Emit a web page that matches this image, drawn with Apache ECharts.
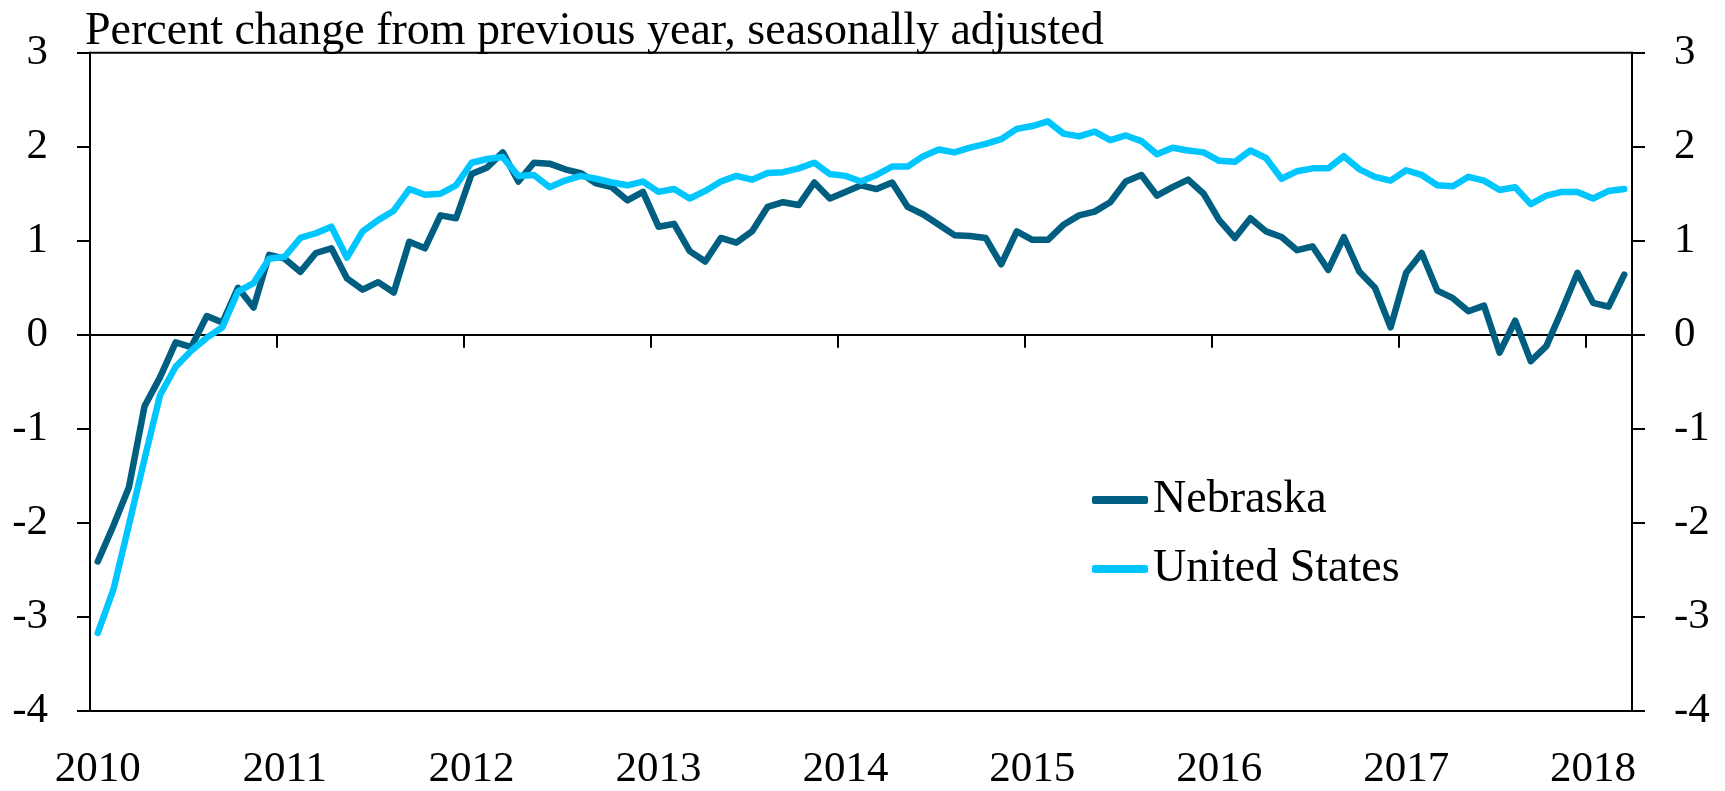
<!DOCTYPE html>
<html>
<head>
<meta charset="utf-8">
<script src="https://cdn.jsdelivr.net/npm/echarts@6/dist/echarts.min.js"></script>
<style>
html,body{margin:0;padding:0;background:#fff;}
#chart{width:1725px;height:791px;}
</style>
</head>
<body>
<div id="chart"></div>
<script>
// Monthly, Jan 2010 .. Mar 2018
var startYear = 2010, startMonth = 0, monthCount = 99;
var months = [];
for (var k = 0; k < monthCount; k++) {
  var y = startYear + Math.floor((startMonth + k) / 12);
  var m = (startMonth + k) % 12 + 1;
  months.push(y + '-' + (m < 10 ? '0' + m : m));
}

var titleText = 'Percent change from previous year, seasonally adjusted';
var seriesNames = ['Nebraska', 'United States'];
var yTicks = [-4, -3, -2, -1, 0, 1, 2, 3];

var nebraska = [
  -2.41, -2.03, -1.62, -0.76, -0.45, -0.08, -0.13, 0.20, 0.13, 0.50, 0.29, 0.85,
  0.81, 0.67, 0.87, 0.92, 0.60, 0.48, 0.56, 0.45, 0.99, 0.92, 1.27, 1.24,
  1.71, 1.78, 1.94, 1.63, 1.83, 1.82, 1.76, 1.72, 1.61, 1.57, 1.43, 1.52,
  1.15, 1.18, 0.89, 0.78, 1.03, 0.98, 1.10, 1.36, 1.41, 1.38, 1.62, 1.45,
  1.52, 1.59, 1.55, 1.62, 1.36, 1.28, 1.17, 1.06, 1.05, 1.03, 0.75, 1.10,
  1.01, 1.01, 1.17, 1.27, 1.31, 1.41, 1.63, 1.70, 1.48, 1.57, 1.65, 1.50,
  1.22, 1.03, 1.24, 1.10, 1.04, 0.90, 0.94, 0.69, 1.04, 0.67, 0.50, 0.08,
  0.66, 0.87, 0.47, 0.39, 0.25, 0.31, -0.19, 0.15, -0.28, -0.12, 0.26, 0.66,
  0.34, 0.30, 0.64
];

var unitedStates = [
  -3.17, -2.71, -2.02, -1.32, -0.64, -0.34, -0.17, -0.03, 0.08, 0.46, 0.55, 0.81,
  0.83, 1.03, 1.08, 1.15, 0.82, 1.10, 1.22, 1.32, 1.55, 1.49, 1.50, 1.59,
  1.83, 1.87, 1.89, 1.69, 1.70, 1.57, 1.64, 1.69, 1.66, 1.62, 1.59, 1.63,
  1.52, 1.55, 1.45, 1.53, 1.63, 1.69, 1.65, 1.72, 1.73, 1.77, 1.83, 1.71,
  1.69, 1.63, 1.70, 1.79, 1.79, 1.90, 1.97, 1.94, 1.99, 2.03, 2.08, 2.19,
  2.22, 2.27, 2.14, 2.11, 2.16, 2.07, 2.12, 2.06, 1.92, 1.99, 1.96, 1.94,
  1.85, 1.84, 1.96, 1.88, 1.66, 1.74, 1.77, 1.77, 1.90, 1.76, 1.68, 1.64,
  1.75, 1.70, 1.59, 1.58, 1.68, 1.64, 1.54, 1.57, 1.39, 1.48, 1.52, 1.52,
  1.45, 1.53, 1.55
];

var colors = ['#005E80', '#00C6FF'];
var FONT = '"Liberation Serif", "Times New Roman", serif';

function isJan(idx) { return idx % 12 === 0; }

var chart = echarts.init(document.getElementById('chart'), null, {renderer: 'canvas'});
var axisLabelStyle = {color: '#000', fontFamily: FONT, fontSize: 43};
var option = {
  animation: false,
  backgroundColor: '#fff',
  title: {
    text: titleText, left: 80, top: 4,
    textStyle: {color: '#000', fontFamily: FONT, fontSize: 46, fontWeight: 'normal'}
  },
  legend: [
    {
      data: [seriesNames[0]], orient: 'vertical', left: 1092, top: 477, padding: 0,
      icon: 'roundRect', itemWidth: 56, itemHeight: 8,
      textStyle: {color: '#000', fontFamily: FONT, fontSize: 46}
    },
    {
      data: [seriesNames[1]], orient: 'vertical', left: 1092, top: 546, padding: 0,
      icon: 'roundRect', itemWidth: 56, itemHeight: 8,
      textStyle: {color: '#000', fontFamily: FONT, fontSize: 46}
    }
  ],
  grid: {
    left: 90, right: 93, top: 52.7, bottom: 73.3, containLabel: false,
    show: true, borderColor: '#000', borderWidth: 2, backgroundColor: 'transparent'
  },
  xAxis: [
    {
      type: 'category', data: months, boundaryGap: true, position: 'bottom',
      axisLine: {show: true, onZero: false, lineStyle: {color: '#000', width: 2}},
      axisTick: {show: false},
      axisLabel: Object.assign({interval: function (i) { return isJan(i); },
        margin: 37, formatter: function (v) { return v.slice(0, 4); }}, axisLabelStyle),
      splitLine: {show: false}
    },
    {
      type: 'category', data: months, boundaryGap: true, position: 'bottom',
      axisLine: {show: true, onZero: true, lineStyle: {color: '#000', width: 2}},
      axisTick: {show: true, inside: false, length: 13, interval: function (i) { return isJan(i); },
        lineStyle: {color: '#000', width: 2}},
      axisLabel: {show: false},
      splitLine: {show: false}
    }
  ],
  yAxis: [
    {
      type: 'value', min: yTicks[0], max: yTicks[yTicks.length - 1], interval: 1, position: 'left',
      axisLine: {show: true, lineStyle: {color: '#000', width: 2}},
      axisTick: {show: true, length: 13, lineStyle: {color: '#000', width: 2}},
      axisLabel: Object.assign({margin: 42}, axisLabelStyle),
      splitLine: {show: false}
    },
    {
      type: 'value', min: yTicks[0], max: yTicks[yTicks.length - 1], interval: 1, position: 'right',
      axisLine: {show: true, lineStyle: {color: '#000', width: 2}},
      axisTick: {show: true, length: 13, lineStyle: {color: '#000', width: 2}},
      axisLabel: Object.assign({margin: 42}, axisLabelStyle),
      splitLine: {show: false}
    }
  ],
  series: [
    {
      name: seriesNames[0], type: 'line', data: nebraska, xAxisIndex: 0, yAxisIndex: 0,
      showSymbol: false, symbol: 'none', color: colors[0],
      lineStyle: {width: 6.5, color: colors[0], cap: 'round', join: 'round'}
    },
    {
      name: seriesNames[1], type: 'line', data: unitedStates, xAxisIndex: 0, yAxisIndex: 0,
      showSymbol: false, symbol: 'none', color: colors[1],
      lineStyle: {width: 6.5, color: colors[1], cap: 'round', join: 'round'}
    }
  ]
};
chart.setOption(option);
</script>
</body>
</html>
